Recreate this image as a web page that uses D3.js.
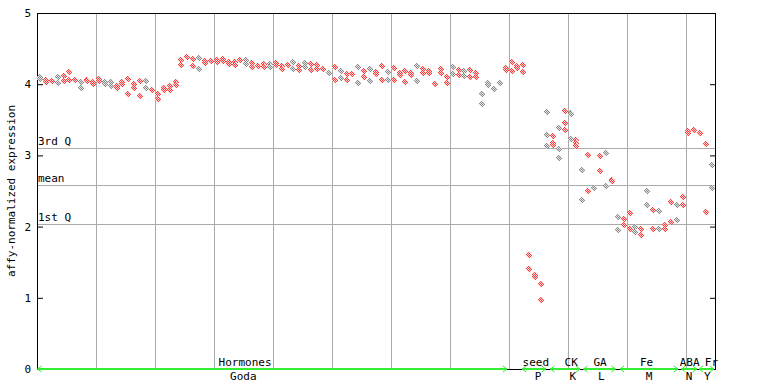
<!DOCTYPE html>
<html>
<head>
<meta charset="utf-8">
<script src="https://cdn.jsdelivr.net/npm/d3@7"></script>
<style>
  body { margin: 0; background: #fff; }
  text { font-family: "DejaVu Sans Mono", "Liberation Mono", monospace; font-size: 11px; fill: #000; }
</style>
</head>
<body>
<div id="my_dataviz"></div>
<script>

// expression values per sample (replicates), sample index follows the array order
var godaVals = [
  [4.10, 4.07], [4.06, 4.03], [4.04, 4.04], [4.10, 4.02], [4.12, 4.04],
  [4.17, 4.06], [4.06, 4.06], [4.03, 3.95], [4.06, 4.05], [4.03, 4.00],
  [4.07, 4.04], [4.03, 4.00], [4.03, 3.97], [3.97, 3.95], [4.03, 4.00],
  [4.07, 3.86], [4.00, 3.95], [4.04, 3.83], [4.04, 3.95], [3.92, 3.92],
  [3.86, 3.79], [3.92, 3.95], [3.97, 3.92], [4.03, 3.99], [4.34, 4.27],
  [4.38], [4.35, 4.26], [4.37, 4.21], [4.33, 4.30], [4.33, 4.33],
  [4.34, 4.31], [4.35, 4.33], [4.31, 4.28], [4.31, 4.27], [4.34, 4.34],
  [4.34, 4.28], [4.30, 4.24], [4.26, 4.26], [4.28, 4.24], [4.28, 4.24],
  [4.30, 4.27], [4.26, 4.21], [4.27], [4.31, 4.21], [4.26, 4.20],
  [4.30, 4.24], [4.28, 4.20], [4.27, 4.21], [4.21, 4.21], [4.16, 4.16],
  [4.24, 4.06], [4.19, 4.09], [4.14, 4.06], [4.14, 4.14], [4.24, 4.02],
  [4.19, 4.10], [4.21, 4.04], [4.17, 4.14], [4.26, 4.06], [4.17, 4.06],
  [4.23, 4.06], [4.16, 4.13], [4.19, 4.03], [4.16, 4.13], [4.26, 4.04],
  [4.21, 4.16], [4.19, 4.16], [4.00, 4.00], [4.21, 4.16], [4.10, 4.02],
  [4.24, 4.14], [4.20, 4.13], [4.19, 4.12], [4.20, 4.10], [4.16, 4.10],
  [3.86, 3.72], [4.02, 3.99], [3.93], [4.02], [4.23, 4.20],
  [4.31, 4.19], [4.26, 4.23], [4.27, 4.17]
];
var seedVals = [[1.60, 1.40], [1.32, 1.29], [1.19, 0.97]];
var ckVals = [
  [3.61, 3.28, 3.13], [3.27, 3.17, 3.15], [3.38, 3.09, 2.96],
  [3.62, 3.46, 3.35], [3.60, 3.58, 3.23], [3.21, 3.18, 3.13]
];
var gaVals = [[2.80, 2.38], [3.01, 2.50], [2.54, 2.54], [2.99, 2.78], [3.03, 2.57], [2.66, 2.64]];
var feVals = [
  [2.13, 1.95], [2.10, 2.02], [2.19, 1.96], [1.99, 1.93], [1.96, 1.88], [2.50, 2.31],
  [2.24, 1.96], [2.22, 1.96], [2.02, 1.96], [2.34, 2.06], [2.31, 2.09], [2.41, 2.31]
];
var abaVals = [[3.34, 3.31], [3.35, 3.35], [3.32]];
var frVals = [[3.16, 2.21], [2.87, 2.54]];

// colour of each sample, r = red, g = grey
var sampleColors = "grrgrrrgrrrggrrrrrgrrrrrrrrgrrrrrrrgrrrgrrrgrgrrrgrgrrgrgrrgrrrrgrrrrrgrgrrggggrrrrrrrgrgrgrgrgrgrgrrgrgrgrrgrrrrrg";

// reference lines
var quartiles = [
  {name: "3rd Q", value: 3.10},
  {name: "mean", value: 2.58},
  {name: "1st Q", value: 2.04}
];

// experiment groups: arrow range (sample index), label centres (sample index)
var groupTop = ["Hormones", "seed", "CK", "GA", "Fe", "ABA", "Fr"];
var groupBottom = ["Goda", "P", "K", "L", "M", "N", "Y"];
var groupStart = [-0.4, 81.8, 86.6, 92.2, 98.4, 108.8, 111.8];
var groupEnd = [79.2, 85.8, 91.6, 97.6, 108.2, 111.4, 114.3];
var topCentre = [34.8, 84.1, 90.1, 95.0, 102.9, 110.2, 113.9];
var bottomCentre = [34.5, 84.5, 90.4, 95.2, 103.3, 110.1, 113.2];

var yTicks = [0, 1, 2, 3, 4, 5];
var gridEvery = 10;

// flatten to points
var allSamples = godaVals.concat(seedVals, ckVals, gaVals, feVals, abaVals, frVals);
var nSamples = allSamples.length;
var points = [];
allSamples.forEach(function(reps, i) {
  reps.forEach(function(v) {
    points.push({i: i, v: v, c: sampleColors[i] || "r"});
  });
});

var margin = {top: 13, right: 53, bottom: 15, left: 37},
    width = 768 - margin.left - margin.right,
    height = 384 - margin.top - margin.bottom;

var svg0 = d3.select("#my_dataviz")
  .append("svg")
    .attr("width", 768)
    .attr("height", 384);

// checker patterns for the markers
var defs = svg0.append("defs");
[["chkR", "#ff3d3d", "#ffd6d6"], ["chkG", "#8a8a8a", "#e4e4e4"]].forEach(function(p) {
  var pat = defs.append("pattern")
    .attr("id", p[0])
    .attr("width", 2).attr("height", 2)
    .attr("patternUnits", "userSpaceOnUse");
  pat.append("rect").attr("x", 0).attr("y", 0).attr("width", 2).attr("height", 2).attr("fill", p[2]);
  pat.append("rect").attr("x", 0).attr("y", 0).attr("width", 1).attr("height", 1).attr("fill", p[1]);
  pat.append("rect").attr("x", 1).attr("y", 1).attr("width", 1).attr("height", 1).attr("fill", p[1]);
});

var svg = svg0.append("g")
  .attr("transform", "translate(" + margin.left + "," + margin.top + ")");

var x = d3.scaleLinear()
  .domain([-0.5, nSamples - 0.5])
  .range([0, width]);

var y = d3.scaleLinear()
  .domain([0, 5])
  .range([height, 0]);

// vertical grid lines
var gridPos = d3.range(gridEvery - 0.5, nSamples - 1, gridEvery);
svg.append("g")
  .selectAll("line")
  .data(gridPos)
  .enter()
  .append("line")
    .attr("x1", function(d) { return Math.round(x(d)) + 0.5; })
    .attr("x2", function(d) { return Math.round(x(d)) + 0.5; })
    .attr("y1", 0)
    .attr("y2", height)
    .attr("stroke", "#aaaaaa")
    .attr("stroke-width", 1);

// quartile / mean lines
svg.append("g")
  .selectAll("line")
  .data(quartiles)
  .enter()
  .append("line")
    .attr("x1", 0)
    .attr("x2", width)
    .attr("y1", function(d) { return Math.round(y(d.value)) + 0.5; })
    .attr("y2", function(d) { return Math.round(y(d.value)) + 0.5; })
    .attr("stroke", "#aaaaaa");

svg.append("g")
  .selectAll("text")
  .data(quartiles)
  .enter()
  .append("text")
    .attr("x", 1)
    .attr("y", function(d) { return Math.round(y(d.value)) - 3; })
    .text(function(d) { return d.name; });

// frame
svg.append("rect")
  .attr("x", 0.5).attr("y", 0.5)
  .attr("width", width).attr("height", height)
  .attr("fill", "none")
  .attr("stroke", "#000");

// left axis, ticks pointing inside
svg.append("g")
  .call(d3.axisRight(y).tickValues(yTicks).tickSize(6).tickFormat(""))
  .call(function(g) { g.select(".domain").remove(); })
  .selectAll("line").attr("stroke", "#000");

svg.append("g")
  .selectAll("text")
  .data(yTicks)
  .enter()
  .append("text")
    .attr("x", -6)
    .attr("y", function(d) { return y(d) + 4; })
    .style("text-anchor", "end")
    .text(function(d) { return d; });

// right axis ticks
svg.append("g")
  .attr("transform", "translate(" + width + ",0)")
  .call(d3.axisLeft(y).tickValues(yTicks).tickSize(5).tickFormat(""))
  .call(function(g) { g.select(".domain").remove(); })
  .selectAll("line").attr("stroke", "#000");

// y label
svg0.append("text")
  .attr("transform", "rotate(-90)")
  .attr("x", -191)
  .attr("y", 15)
  .style("text-anchor", "middle")
  .text("affy-normalized expression");

// points
var diamond = "M0,-3.5L3.5,0L0,3.5L-3.5,0Z";
svg.append("g")
  .selectAll("path")
  .data(points)
  .enter()
  .append("path")
    .attr("transform", function(d) {
      return "translate(" + Math.round(x(d.i)) + "," + Math.round(y(d.v)) + ")";
    })
    .attr("d", diamond)
    .attr("shape-rendering", "crispEdges")
    .attr("fill", function(d) { return d.c === "g" ? "url(#chkG)" : "url(#chkR)"; });

// group arrows along the x axis
var groups = groupTop.map(function(t, k) {
  return {top: t, bottom: groupBottom[k], s: groupStart[k], e: groupEnd[k], tc: topCentre[k], bc: bottomCentre[k]};
});
var green = "#33ee33";
var ag = svg.append("g").attr("transform", "translate(0," + height + ")");
ag.selectAll("line")
  .data(groups)
  .enter()
  .append("line")
    .attr("x1", function(d) { return x(d.s); })
    .attr("x2", function(d) { return x(d.e); })
    .attr("y1", 0).attr("y2", 0)
    .attr("stroke", green)
    .attr("stroke-width", 2);
ag.selectAll(".headL")
  .data(groups)
  .enter()
  .append("path")
    .attr("class", "headL")
    .attr("d", function(d) { var a = x(d.s); return "M" + (a + 4) + ",-3L" + a + ",0L" + (a + 4) + ",3"; })
    .attr("fill", "none")
    .attr("stroke", green);
ag.selectAll(".headR")
  .data(groups)
  .enter()
  .append("path")
    .attr("class", "headR")
    .attr("d", function(d) { var a = x(d.e); return "M" + (a - 4) + ",-3L" + a + ",0L" + (a - 4) + ",3"; })
    .attr("fill", "none")
    .attr("stroke", green);
ag.selectAll(".lblTop")
  .data(groups)
  .enter()
  .append("text")
    .attr("class", "lblTop")
    .attr("x", function(d) { return x(d.tc); })
    .attr("y", -3)
    .style("text-anchor", "middle")
    .text(function(d) { return d.top; });
ag.selectAll(".lblBot")
  .data(groups)
  .enter()
  .append("text")
    .attr("class", "lblBot")
    .attr("x", function(d) { return x(d.bc); })
    .attr("y", 11)
    .style("text-anchor", "middle")
    .text(function(d) { return d.bottom; });

</script>
</body>
</html>
